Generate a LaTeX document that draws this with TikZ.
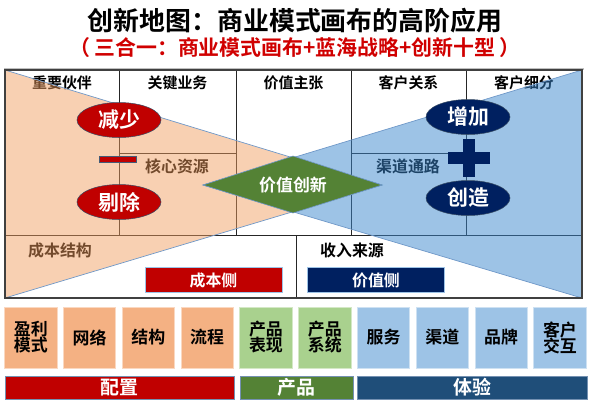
\documentclass[tikz,border=0pt]{standalone}
\usepackage{fontspec}
\setmainfont{Noto Sans CJK SC}[BoldFont={Noto Sans CJK SC Bold}]
\usetikzlibrary{shapes.geometric}
\definecolor{cred}{HTML}{C00000}
\definecolor{cnavy}{HTML}{002060}
\definecolor{cgreen}{HTML}{548235}
\definecolor{corX}{RGB}{240,156,94}
\definecolor{cblX}{RGB}{59,135,205}
\definecolor{boxor}{HTML}{F4B183}
\definecolor{boxgr}{HTML}{A9D18E}
\definecolor{boxbl}{HTML}{9DC3E6}
\definecolor{bardb}{HTML}{1F4E79}
\definecolor{titred}{HTML}{D00000}
\definecolor{edgeblue}{HTML}{6F98C8}
\definecolor{gridc}{HTML}{262626}
\definecolor{outerc}{HTML}{404040}
\newcommand{\fs}[1]{\fontsize{#1}{#1}\selectfont\bfseries}
\tikzset{
  hdr/.style={font=\fs{15}, text=black, inner sep=0pt},
  gridline/.style={draw=gridc, line width=0.9bp},
  tri/.style={draw=edgeblue, line width=0.7bp},
  redell/.style={ellipse, fill=cred, draw=edgeblue!50!black, line width=0.5bp, minimum width=84bp, minimum height=35bp, inner sep=0pt, text=white, font=\fs{21}},
  navyell/.style={ellipse, fill=cnavy, draw=edgeblue!50!black, line width=0.5bp, minimum width=84bp, minimum height=35bp, inner sep=0pt, text=white, font=\fs{21}},
  sidebox/.style={minimum width=137bp, minimum height=25bp, inner sep=0pt, draw=boxbl, line width=0.8bp, text=white, font=\fs{16}},
  cell/.style={minimum width=52.5bp, minimum height=61bp, inner sep=0pt, line width=0.8bp, text=black, font=\fs{17}, align=center},
  bar/.style={minimum height=23bp, inner sep=0pt, draw=edgeblue!70!gray, line width=0.6bp, text=white, font=\fs{19}},
}
\begin{document}
\begin{tikzpicture}[x=1bp, y=-1bp]
\useasboundingbox (0,0) rectangle (590,410);
% title
\node[font=\fs{26}, inner sep=0pt] (title) at (295,21) {创新地图：商业模式画布的高阶应用};
\node[font=\fs{21}, text=titred, inner sep=0pt] (subtitle) at (295,48) {（\,三合一：商业模式画布+蓝海战略+创新十型\,）};
\draw[draw={rgb,255:red,191;green,191;blue,191}, line width=1.2bp] (4,69) -- (584,69);
% grid
\draw[gridline] (119,70) -- (119,235);
\draw[gridline] (236,70) -- (236,235);
\draw[gridline] (351,70) -- (351,235);
\draw[gridline] (466,70) -- (466,235);
\draw[gridline] (5,235) -- (582,235);
\draw[gridline] (119,153) -- (236,153);
\draw[gridline] (351,153) -- (466,153);
\draw[gridline] (296,235) -- (296,298);
% headers and block labels
\node[hdr] (h1) at (62,83) {重要伙伴};
\node[hdr] (h2) at (177.5,83) {关键业务};
\node[hdr] (h3) at (293.5,83) {价值主张};
\node[hdr] (h4) at (408.5,83) {客户关系};
\node[hdr] (h5) at (524,83) {客户细分};
\node[hdr, font=\fs{16}] (kr) at (177,166) {核心资源};
\node[hdr, font=\fs{16}] (qd) at (408,166) {渠道通路};
\node[hdr, font=\fs{16}] (cb) at (60,250) {成本结构};
\node[hdr, font=\fs{16}] (sr) at (352,250) {收入来源};
% triangles
\path[tri, fill=corX, fill opacity=0.48] (5,70) -- (382,185) -- (5,298) -- cycle;
\path[tri, fill=cblX, fill opacity=0.5] (582,70) -- (203,185) -- (582,298) -- cycle;
% outer border
\draw[draw=outerc, line width=1.3bp] (5,70) rectangle (582,298);
% value innovation diamond
\path[fill=cgreen, draw=edgeblue, line width=0.6bp] (203,185) -- (293,156) -- (382,185) -- (293,213) -- cycle;
\node[text=white, font=\fs{17}, inner sep=0pt] (vi) at (293,185) {价值创新};
% reduce / eliminate
\node[redell] (reduce) at (119,120) {减少};
\node[redell] (elim) at (119,202) {剔除};
\node[fill=cred, draw=edgeblue!60!black, line width=0.4bp, minimum width=37bp, minimum height=6bp, inner sep=0pt] (minus) at (118,159) {};
% raise / create
\node[navyell] (raise) at (468,117) {增加};
\node[navyell] (create) at (468,198) {创造};
\node[fill=cnavy, minimum width=42bp, minimum height=12.5bp, inner sep=0pt] (plush) at (469,158) {};
\node[fill=cnavy, minimum width=12.5bp, minimum height=38bp, inner sep=0pt] (plusv) at (469,158) {};
% side boxes
\node[sidebox, fill=cred] (costside) at (213.5,280) {成本侧};
\node[sidebox, fill=cnavy] (valueside) at (376,280) {价值侧};
% ten types
\node[cell, fill=boxor, draw=boxor!50!white] (t1) at (30.75,337.5) {盈利\\[-1bp]模式};
\node[cell, fill=boxor, draw=boxor!50!white] (t2) at (89.55,337.5) {网络};
\node[cell, fill=boxor, draw=boxor!50!white] (t3) at (148.35,337.5) {结构};
\node[cell, fill=boxor, draw=boxor!50!white] (t4) at (207.15,337.5) {流程};
\node[cell, fill=boxgr, draw=boxgr!50!white] (t5) at (265.95,337.5) {产品\\[-1bp]表现};
\node[cell, fill=boxgr, draw=boxgr!50!white] (t6) at (324.75,337.5) {产品\\[-1bp]系统};
\node[cell, fill=boxbl, draw=boxbl!50!white] (t7) at (383.55,337.5) {服务};
\node[cell, fill=boxbl, draw=boxbl!50!white] (t8) at (442.35,337.5) {渠道};
\node[cell, fill=boxbl, draw=boxbl!50!white] (t9) at (501.15,337.5) {品牌};
\node[cell, fill=boxbl, draw=boxbl!50!white] (t10) at (559.95,337.5) {客户\\[-1bp]交互};
% bars
\node[bar, fill=cred, minimum width=229bp] (b1) at (119.5,387.5) {配置};
\node[bar, fill=cgreen, minimum width=113bp] (b2) at (296.5,387.5) {产品};
\node[bar, fill=bardb, minimum width=230bp] (b3) at (472,387.5) {体验};
\end{tikzpicture}
\end{document}
